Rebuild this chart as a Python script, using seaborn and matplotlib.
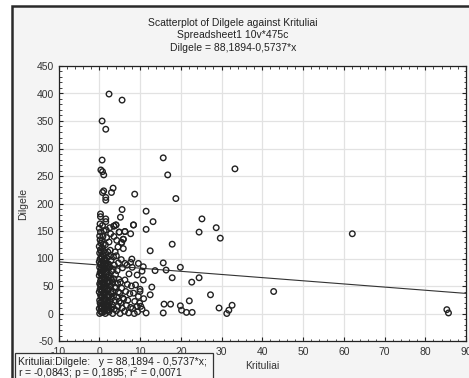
import numpy as np
import pandas as pd
import seaborn as sns
from matplotlib import pyplot as plt
from matplotlib.patches import Rectangle
from matplotlib.ticker import MultipleLocator

# dense cluster near zero rainfall (estimated)
kr_dense = [0.1, 0.3, 0.0, 0.4, 0.2, 0.1, 0.5, 0.3, 0.0, 0.2, 0.4, 0.1, 0.3, 0.5, 0.0, 0.2,
            0.4, 0.1, 0.3, 0.0, 0.2, 0.5, 0.1, 0.3, 0.0, 0.4, 0.2, 0.1, 0.3, 0.0, 0.2,
            0.8, 1.1, 0.7, 1.0, 0.9, 1.2, 0.8, 1.0, 0.7, 1.1, 0.9, 0.8, 1.2, 1.0, 0.7,
            0.9, 1.1, 0.8, 1.0, 1.2, 0.7, 0.9, 1.1, 0.8, 1.0, 0.7, 0.9, 1.2, 0.8,
            1.5, 1.9, 1.4, 1.7, 2.1, 1.6, 1.8, 1.4, 2.0, 1.5, 1.7, 1.9, 1.4, 2.1, 1.6,
            1.8, 1.5, 2.0, 1.7, 1.4, 1.9, 1.6, 2.1, 1.5, 1.8, 1.7, 1.6,
            2.4, 2.8, 2.3, 2.6, 3.0, 2.5, 2.9, 2.3, 2.7, 2.5, 2.8, 2.4, 3.0, 2.6, 2.3,
            2.9, 2.5, 2.7, 2.4, 2.8, 2.6,
            3.3, 3.7, 3.2, 3.9, 3.5, 3.4, 3.8, 3.3, 3.6, 4.0, 3.4, 3.7, 3.5, 3.9, 3.6, 3.6,
            4.2, 4.6, 4.9, 4.3, 4.7, 4.1, 4.5, 4.8, 4.4, 4.7, 4.2, 4.6, 4.3, 4.1,
            5.1, 5.6, 5.3, 5.8, 5.0, 5.5, 5.2, 5.7, 5.4, 5.9, 5.5, 5.9, 4.9,
            6.2, 6.7, 6.0, 6.5, 6.9, 6.3, 6.8, 6.3, 6.3,
            7.2, 7.7, 7.0, 7.5, 7.9, 7.3, 7.7, 7.7,
            8.2, 8.7, 8.4, 8.9, 8.1, 8.0, 8.4,
            9.4, 9.9, 9.6, 10.0, 9.3, 9.6,
            10.5, 10.9, 10.0, 10.8, 10.5, 10.8,
            0.6, 0.4, 0.6, 0.5, 0.6, 0.3, 0.6, 0.5, 0.6, 0.4, 0.6, 0.5,
            1.3, 1.2, 1.3, 1.1, 1.3, 1.2, 1.3, 1.0, 1.3, 1.2,
            2.2, 2.0, 2.2, 2.1, 2.2, 2.0, 2.2, 3.1, 3.0, 3.1]
dg_dense = [0, 4, 9, 14, 19, 24, 29, 34, 39, 44, 49, 54, 59, 64, 69, 74,
            79, 84, 89, 94, 99, 104, 110, 116, 122, 128, 134, 141, 148, 155, 163,
            2, 7, 12, 17, 22, 27, 32, 37, 42, 47, 52, 57, 62, 67, 72,
            77, 82, 87, 92, 97, 102, 107, 113, 119, 126, 133, 140, 150, 160,
            0, 6, 11, 16, 21, 26, 31, 36, 41, 46, 51, 56, 61, 66, 71,
            76, 81, 86, 91, 96, 101, 106, 112, 125, 138, 152, 167,
            3, 9, 15, 21, 27, 33, 39, 45, 51, 57, 64, 70, 77, 84, 90,
            97, 104, 115, 130, 145, 156,
            0, 8, 16, 24, 32, 40, 48, 56, 63, 71, 80, 88, 103, 112, 140, 159,
            5, 13, 22, 30, 39, 47, 55, 62, 78, 92, 105, 121, 133, 161,
            0, 10, 19, 28, 37, 46, 57, 83, 98, 118, 129, 135, 148,
            4, 15, 26, 40, 53, 61, 88, 91, 149,
            1, 11, 24, 36, 50, 72, 93, 145,
            9, 22, 37, 52, 84, 99, 161,
            3, 19, 31, 44, 70, 91,
            8, 27, 40, 61, 77, 85,
            2, 11, 21, 31, 41, 52, 62, 72, 82, 92, 102, 112,
            4, 14, 25, 35, 45, 55, 65, 79, 89, 99,
            6, 18, 30, 43, 58, 73, 88, 12, 36, 60]

# scattered points
kr_sparse = [2.4, 5.6, 0.7, 1.6, 0.7, 0.4, 0.8, 1.1, 15.7, 16.8, 33.3, 3.4, 3.0, 0.8,
             1.1, 1.6, 1.6, 8.7, 18.8, 5.6, 11.5, 5.2, 0.3, 0.3, 1.6, 13.2, 25.2, 8.4,
             28.7, 29.7, 24.5, 11.5, 17.9, 12.5, 15.7, 19.9, 13.7, 16.4, 17.9, 22.7,
             24.5, 27.3, 12.9, 12.5, 15.9, 17.5, 19.9, 22.1, 20.2, 21.4, 22.8, 15.7,
             11.5, 29.4, 32.6, 31.8, 31.3, 8.6, 9.3, 10.2, 42.8, 62.1, 85.3, 85.7,
             3.6, 4.1, 6.3, 4.9, 5.9, 5.5]
dg_sparse = [399, 388, 350, 335, 279, 261, 258, 252, 283, 252, 263, 228, 220, 220,
             223, 211, 206, 217, 209, 189, 186, 175, 181, 176, 172, 167, 172, 161,
             156, 137, 148, 153, 126, 114, 92, 84, 78, 79, 65, 57,
             65, 34, 48, 34, 17, 17, 14, 23, 6, 2, 2, 1,
             1, 10, 15, 6, 0, 0, 13, 13, 40, 145, 7, 1,
             159, 161, 149, 148, 135, 129]

intercept = 88.1894
slope = -0.5737

df = pd.DataFrame({'Krituliai': kr_dense + kr_sparse, 'Dilgele': dg_dense + dg_sparse})

plt.rcParams['font.family'] = ['Liberation Sans', 'DejaVu Sans']
plt.rcParams['axes.unicode_minus'] = False
fig = plt.figure(figsize=(4.69, 3.78), dpi=100, facecolor='white')

# grey panel with dark frame on top / left
fig.patches.append(Rectangle((11.5 / 469, -0.1), 1.2, 1 - 6 / 378 + 0.1, transform=fig.transFigure,
                             facecolor='#f4f4f4', edgecolor='#2a2a2a', lw=1.8, zorder=-1))

ax = fig.add_axes([58.5 / 469, 1 - 341 / 378, 407.5 / 469, 275 / 378])
ax.set_zorder(1)
ax.set_facecolor('white')

sns.scatterplot(x='Krituliai', y='Dilgele', data=df, ax=ax, marker='o', s=16,
                facecolor='none', edgecolor='#222222', linewidth=1.0, zorder=3)

xs = np.array([-10, 90])
ax.plot(xs, intercept + slope * xs, color='#333333', lw=0.8, zorder=2)

ax.set_xlim(-10, 90)
ax.set_ylim(-50, 450)
ax.xaxis.set_major_locator(MultipleLocator(10))
ax.xaxis.set_minor_locator(MultipleLocator(2))
ax.yaxis.set_major_locator(MultipleLocator(50))
ax.yaxis.set_minor_locator(MultipleLocator(10))
ax.tick_params(which='both', direction='in', top=True, right=True, colors='#222222',
               labelsize=7.5, labelcolor='#333333')
ax.tick_params(which='major', length=3, width=0.8)
ax.tick_params(which='minor', length=1.8, width=0.6)
ax.tick_params(axis='x', pad=4)
ax.grid(which='major', color='#e2e2e2', lw=0.9)
ax.set_axisbelow(True)
for sp in ax.spines.values():
    sp.set_color('#222222')
    sp.set_linewidth(0.9)

ax.set_xlabel('Krituliai', fontsize=7.5, color='#333333', labelpad=3)
ax.set_ylabel('Dilgele', fontsize=7.5, color='#333333', labelpad=6)

fig.text(233 / 469, 1 - 23 / 378, 'Scatterplot of Dilgele against Krituliai', ha='center', va='center',
         fontsize=7.5, color='#222222')
fig.text(233 / 469, 1 - 35.5 / 378, 'Spreadsheet1 10v*475c', ha='center', va='center',
         fontsize=7.5, color='#222222')
fig.text(233 / 469, 1 - 48 / 378, 'Dilgele = 88,1894-0,5737*x', ha='center', va='center',
         fontsize=7.5, color='#222222')

# regression summary box over the bottom-left corner (drawn above the axes)
box = Rectangle((15 / 469, -0.1), 198 / 469, 0.1 + 1 - 353 / 378, transform=fig.transFigure,
                facecolor='#f7f7f7', edgecolor='#333333', lw=0.9, zorder=5)
fig.patches.append(box)
fig.text(18 / 469, 1 - 362 / 378, 'Krituliai:Dilgele:   y = 88,1894 - 0,5737*x;', ha='left', va='center',
         fontsize=7.5, color='#222222', zorder=6)
fig.text(18 / 469, 1 - 373 / 378, 'r = -0,0843; p = 0,1895; r$^2$ = 0,0071', ha='left', va='center',
         fontsize=7.5, color='#222222', zorder=6)

fig.savefig('out.png', dpi=100, facecolor=fig.get_facecolor())
